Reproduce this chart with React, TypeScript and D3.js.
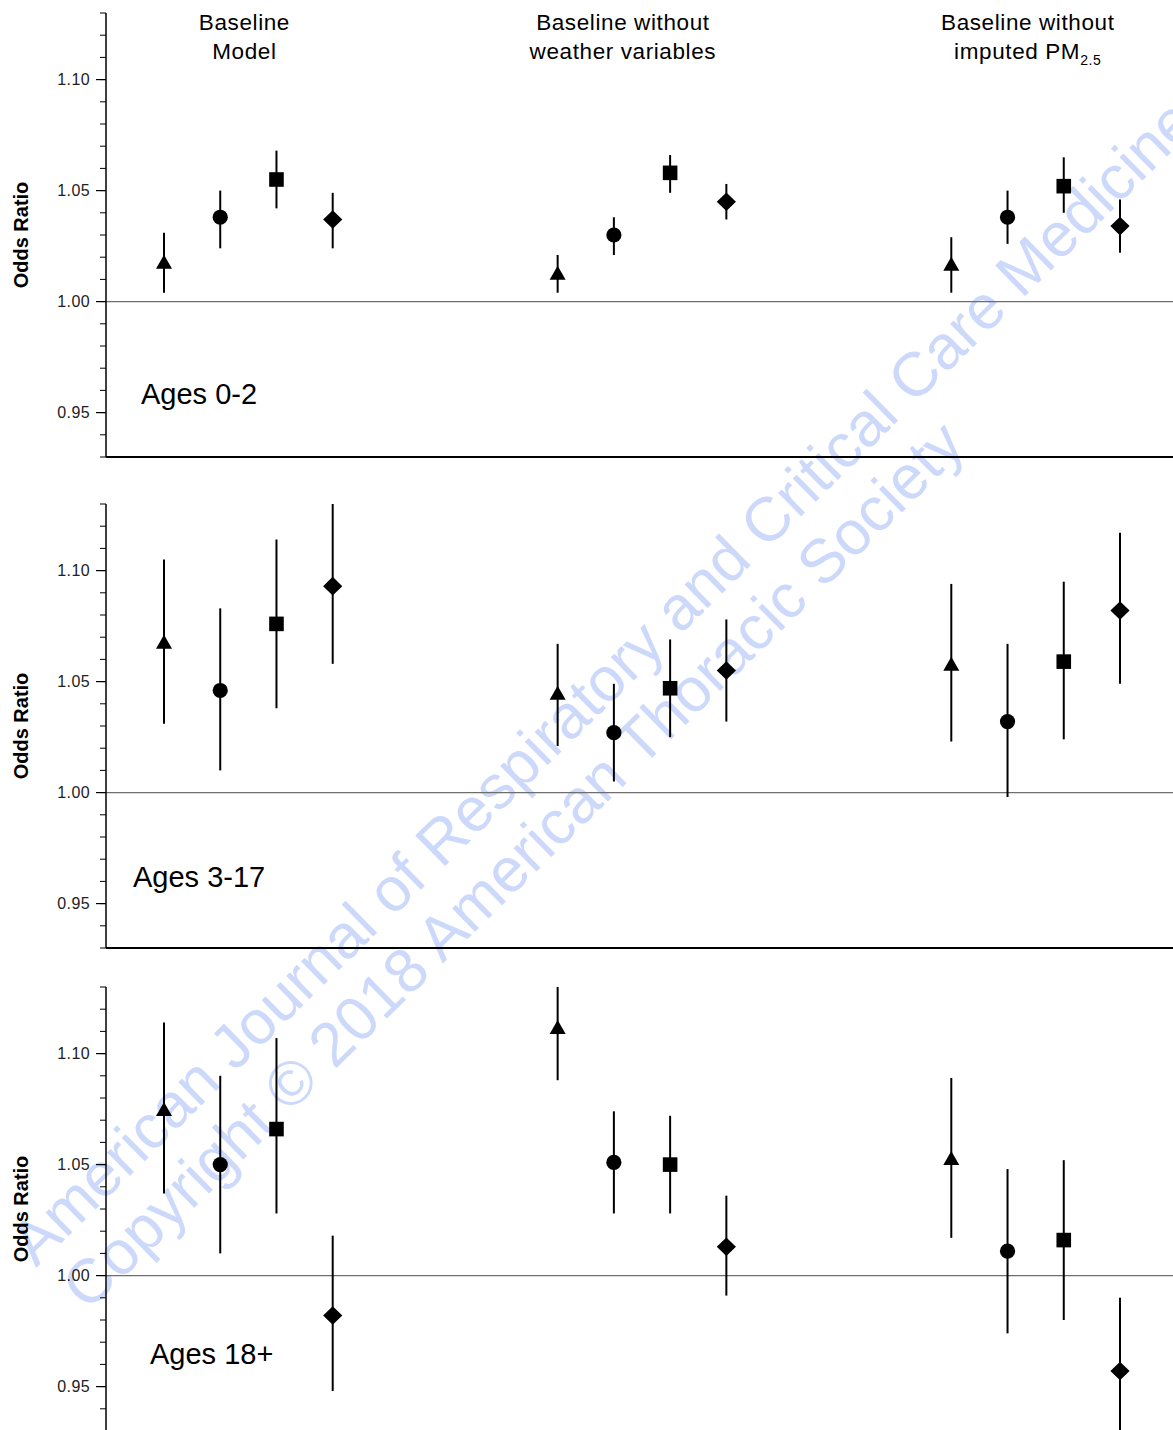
import React, { useEffect, useRef } from 'react';
import * as d3 from 'd3';

const width = 1173;
const height = 1430;

const markers = ['triangle', 'circle', 'square', 'diamond'];
const groupCount = 3;
const ageLabels = ['Ages 0-2', 'Ages 3-17', 'Ages 18+'];
const majorTicks = [0.95, 1.0, 1.05, 1.1];
const minorTicks = d3.range(93, 114).map(d => d / 100);

// odds ratios, 4 markers per model group (triangle, circle, square, diamond)
const est0to2 = [1.018, 1.038, 1.055, 1.037, 1.013, 1.030, 1.058, 1.045, 1.017, 1.038, 1.052, 1.034];
const lo0to2 = [1.004, 1.024, 1.042, 1.024, 1.004, 1.021, 1.049, 1.037, 1.004, 1.026, 1.040, 1.022];
const hi0to2 = [1.031, 1.050, 1.068, 1.049, 1.021, 1.038, 1.066, 1.053, 1.029, 1.050, 1.065, 1.046];

const est3to17 = [1.068, 1.046, 1.076, 1.093, 1.045, 1.027, 1.047, 1.055, 1.058, 1.032, 1.059, 1.082];
const lo3to17 = [1.031, 1.010, 1.038, 1.058, 1.021, 1.005, 1.025, 1.032, 1.023, 0.998, 1.024, 1.049];
const hi3to17 = [1.105, 1.083, 1.114, 1.130, 1.067, 1.049, 1.069, 1.078, 1.094, 1.067, 1.095, 1.117];

const est18 = [1.075, 1.050, 1.066, 0.982, 1.112, 1.051, 1.050, 1.013, 1.053, 1.011, 1.016, 0.957];
const lo18 = [1.037, 1.010, 1.028, 0.948, 1.088, 1.028, 1.028, 0.991, 1.017, 0.974, 0.980, 0.925];
const hi18 = [1.114, 1.090, 1.107, 1.018, 1.130, 1.074, 1.072, 1.036, 1.089, 1.048, 1.052, 0.990];

const panelData = [
  { est: est0to2, lo: lo0to2, hi: hi0to2 },
  { est: est3to17, lo: lo3to17, hi: hi3to17 },
  { est: est18, lo: lo18, hi: hi18 },
];

const font = '"Liberation Sans", Arial, sans-serif';

const shapes = {
  triangle: 'M0,-7L8,7L-8,7Z',
  square: 'M-7.3,-7.3H7.3V7.3H-7.3Z',
  diamond: 'M0,-9.3L9.6,0L0,9.3L-9.6,0Z',
};

function App() {
  const svgRef = useRef(null);

  useEffect(() => {
    const svg = d3.select(svgRef.current);
    svg.selectAll('*').remove();

    const axisX = 106;
    const panelTops = [13, 504, 987];
    const panelH = 444;
    const ageLabelPos = [[141, 404], [133, 887], [150, 1364]];

    // slot index: 7 slots between group starts
    const x = d3.scaleLinear().domain([0, 17]).range([164, 1120]);
    const slot = (g, m) => g * 7 + m;

    // journal watermark (drawn first, light)
    const wm = svg.append('g')
      .attr('transform', 'translate(36,1268) rotate(-44.5)')
      .attr('font-family', font)
      .attr('font-size', 62)
      .attr('fill', '#cdd9fb');
    wm.append('text').attr('x', 0).attr('y', 0)
      .text('American Journal of Respiratory and Critical Care Medicine');
    wm.append('text').attr('x', 6).attr('y', 68)
      .text('Copyright \u00a9 2018 American Thoracic Society');

    panelData.forEach((pd, p) => {
      const top = panelTops[p];
      const y = d3.scaleLinear().domain([0.93, 1.13]).range([top + panelH, top]);
      const g = svg.append('g');

      // reference line at 1.00
      g.append('line')
        .attr('x1', axisX).attr('x2', width)
        .attr('y1', y(1)).attr('y2', y(1))
        .attr('stroke', '#6e6e6e').attr('stroke-width', 1.3);

      // bottom line
      g.append('line')
        .attr('x1', axisX).attr('x2', width)
        .attr('y1', y(0.93)).attr('y2', y(0.93))
        .attr('stroke', '#000').attr('stroke-width', 2);

      // y axis
      g.append('line')
        .attr('x1', axisX).attr('x2', axisX)
        .attr('y1', y(1.13)).attr('y2', y(0.93))
        .attr('stroke', '#000').attr('stroke-width', 1.5);
      g.selectAll('.minor').data(minorTicks).enter()
        .append('line')
          .attr('x1', axisX - 6).attr('x2', axisX)
          .attr('y1', d => y(d)).attr('y2', d => y(d))
          .attr('stroke', '#000').attr('stroke-width', 1);
      g.selectAll('.major').data(majorTicks).enter()
        .append('line')
          .attr('x1', axisX - 10).attr('x2', axisX)
          .attr('y1', d => y(d)).attr('y2', d => y(d))
          .attr('stroke', '#000').attr('stroke-width', 1.2);
      g.selectAll('.ticklabel').data(majorTicks).enter()
        .append('text')
          .attr('x', 90)
          .attr('y', d => y(d))
          .attr('dy', '0.35em')
          .attr('text-anchor', 'end')
          .attr('font-family', font)
          .attr('font-size', 16)
          .attr('letter-spacing', 0.4)
          .attr('fill', '#222')
          .text(d => d.toFixed(2));

      g.append('text')
        .attr('transform', 'translate(28,' + (top + panelH / 2) + ') rotate(-90)')
        .attr('text-anchor', 'middle')
        .attr('font-family', font)
        .attr('font-weight', 'bold')
        .attr('font-size', 20)
        .text('Odds Ratio');

      g.append('text')
        .attr('x', ageLabelPos[p][0])
        .attr('y', ageLabelPos[p][1])
        .attr('font-family', font)
        .attr('font-size', 29)
        .text(ageLabels[p]);

      // error bars + markers
      const pts = [];
      for (let gi = 0; gi < groupCount; gi++) {
        markers.forEach((m, mi) => {
          const i = gi * markers.length + mi;
          pts.push({ cx: x(slot(gi, mi)), est: pd.est[i], lo: pd.lo[i], hi: pd.hi[i], shape: m });
        });
      }
      const top_ = y(1.13);
      const bottom_ = y(0.93);
      g.selectAll('.bar').data(pts).enter()
        .append('line')
          .attr('x1', d => d.cx).attr('x2', d => d.cx)
          .attr('y1', d => Math.max(y(d.hi), top_))
          .attr('y2', d => Math.min(y(d.lo), p === 2 ? height + 5 : bottom_))
          .attr('stroke', '#000').attr('stroke-width', 2);
      pts.forEach(d => {
        if (d.shape === 'circle') {
          g.append('circle').attr('cx', d.cx).attr('cy', y(d.est)).attr('r', 7.6).attr('fill', '#000');
        } else {
          g.append('path')
            .attr('d', shapes[d.shape])
            .attr('transform', 'translate(' + d.cx + ',' + y(d.est) + ')')
            .attr('fill', '#000');
        }
      });
    });

    // column titles
    const titles = svg.append('g')
      .attr('font-family', font)
      .attr('font-size', 22.5)
      .attr('letter-spacing', 0.6)
      .attr('text-anchor', 'middle');
    const t1 = x(1.43), t2 = x(8.16), t3 = x(15.36);
    titles.append('text').attr('x', t1).attr('y', 30).text('Baseline');
    titles.append('text').attr('x', t1).attr('y', 59).text('Model');
    titles.append('text').attr('x', t2).attr('y', 30).text('Baseline without');
    titles.append('text').attr('x', t2).attr('y', 59).text('weather variables');
    titles.append('text').attr('x', t3).attr('y', 30).text('Baseline without');
    const pm = titles.append('text').attr('x', t3).attr('y', 59);
    pm.append('tspan').text('imputed PM');
    pm.append('tspan').attr('font-size', 14).attr('dy', 6).text('2.5');
  }, []);

  return (
    <svg ref={svgRef} width={width} height={height}
         style={{ position: 'absolute', left: 0, top: 0, background: '#fff' }}>
    </svg>
  );
}

export default App;
